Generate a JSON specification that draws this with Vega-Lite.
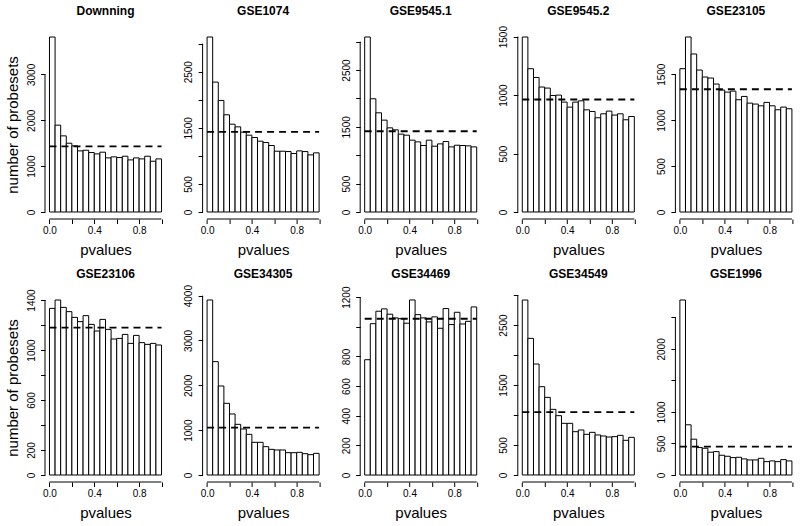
{
"$schema": "https://vega.github.io/schema/vega-lite/v6.json",
"padding": {"left": 5, "top": 5, "right": 0, "bottom": 0},
"background": "white",
"config": {
 "font": "Liberation Sans",
 "view": {"stroke": null},
 "axis": {"grid": false, "domain": false, "tickColor": "black", "tickSize": 4.5, "tickWidth": 1, "labelColor": "black", "labelFontSize": 10, "titleColor": "black", "titleFontSize": 15, "titleFontWeight": "normal", "labelOverlap": false, "labelBound": false, "labelFlush": false},
 "axisX": {"labelPadding": 2, "titlePadding": 7},
 "axisY": {"labelAngle": -90, "labelAlign": "center", "labelBaseline": "alphabetic", "labelPadding": 6.5, "titlePadding": 6},
 "title": {"fontSize": 12, "fontWeight": "bold", "color": "black", "baseline": "alphabetic", "anchor": "middle", "frame": "group"}
},
"datasets": {"bins": [
{"s":"Downning","lo":0,"hi":0.05,"n":3816},{"s":"Downning","lo":0.05,"hi":0.1,"n":1894},{"s":"Downning","lo":0.1,"hi":0.15,"n":1660},{"s":"Downning","lo":0.15,"hi":0.2,"n":1500},{"s":"Downning","lo":0.2,"hi":0.25,"n":1442},{"s":"Downning","lo":0.25,"hi":0.3,"n":1333},{"s":"Downning","lo":0.3,"hi":0.35,"n":1347},{"s":"Downning","lo":0.35,"hi":0.4,"n":1296},{"s":"Downning","lo":0.4,"hi":0.45,"n":1267},{"s":"Downning","lo":0.45,"hi":0.5,"n":1304},{"s":"Downning","lo":0.5,"hi":0.55,"n":1180},{"s":"Downning","lo":0.55,"hi":0.6,"n":1202},{"s":"Downning","lo":0.6,"hi":0.65,"n":1187},{"s":"Downning","lo":0.65,"hi":0.7,"n":1216},{"s":"Downning","lo":0.7,"hi":0.75,"n":1136},{"s":"Downning","lo":0.75,"hi":0.8,"n":1180},{"s":"Downning","lo":0.8,"hi":0.85,"n":1158},{"s":"Downning","lo":0.85,"hi":0.9,"n":1216},{"s":"Downning","lo":0.9,"hi":0.95,"n":1107},{"s":"Downning","lo":0.95,"hi":1,"n":1158},
{"s":"GSE1074","lo":0,"hi":0.05,"n":3119},{"s":"GSE1074","lo":0.05,"hi":0.1,"n":2315},{"s":"GSE1074","lo":0.1,"hi":0.15,"n":1988},{"s":"GSE1074","lo":0.15,"hi":0.2,"n":1732},{"s":"GSE1074","lo":0.2,"hi":0.25,"n":1565},{"s":"GSE1074","lo":0.25,"hi":0.3,"n":1518},{"s":"GSE1074","lo":0.3,"hi":0.35,"n":1423},{"s":"GSE1074","lo":0.35,"hi":0.4,"n":1369},{"s":"GSE1074","lo":0.4,"hi":0.45,"n":1327},{"s":"GSE1074","lo":0.45,"hi":0.5,"n":1262},{"s":"GSE1074","lo":0.5,"hi":0.55,"n":1238},{"s":"GSE1074","lo":0.55,"hi":0.6,"n":1185},{"s":"GSE1074","lo":0.6,"hi":0.65,"n":1083},{"s":"GSE1074","lo":0.65,"hi":0.7,"n":1083},{"s":"GSE1074","lo":0.7,"hi":0.75,"n":1077},{"s":"GSE1074","lo":0.75,"hi":0.8,"n":1042},{"s":"GSE1074","lo":0.8,"hi":0.85,"n":1089},{"s":"GSE1074","lo":0.85,"hi":0.9,"n":1077},{"s":"GSE1074","lo":0.9,"hi":0.95,"n":1018},{"s":"GSE1074","lo":0.95,"hi":1,"n":1054},
{"s":"GSE9545.1","lo":0,"hi":0.05,"n":3082},{"s":"GSE9545.1","lo":0.05,"hi":0.1,"n":1994},{"s":"GSE9545.1","lo":0.1,"hi":0.15,"n":1747},{"s":"GSE9545.1","lo":0.15,"hi":0.2,"n":1618},{"s":"GSE9545.1","lo":0.2,"hi":0.25,"n":1482},{"s":"GSE9545.1","lo":0.25,"hi":0.3,"n":1447},{"s":"GSE9545.1","lo":0.3,"hi":0.35,"n":1371},{"s":"GSE9545.1","lo":0.35,"hi":0.4,"n":1353},{"s":"GSE9545.1","lo":0.4,"hi":0.45,"n":1265},{"s":"GSE9545.1","lo":0.45,"hi":0.5,"n":1235},{"s":"GSE9545.1","lo":0.5,"hi":0.55,"n":1171},{"s":"GSE9545.1","lo":0.55,"hi":0.6,"n":1265},{"s":"GSE9545.1","lo":0.6,"hi":0.65,"n":1159},{"s":"GSE9545.1","lo":0.65,"hi":0.7,"n":1200},{"s":"GSE9545.1","lo":0.7,"hi":0.75,"n":1241},{"s":"GSE9545.1","lo":0.75,"hi":0.8,"n":1147},{"s":"GSE9545.1","lo":0.8,"hi":0.85,"n":1176},{"s":"GSE9545.1","lo":0.85,"hi":0.9,"n":1171},{"s":"GSE9545.1","lo":0.9,"hi":0.95,"n":1165},{"s":"GSE9545.1","lo":0.95,"hi":1,"n":1147},
{"s":"GSE9545.2","lo":0,"hi":0.05,"n":1497},{"s":"GSE9545.2","lo":0.05,"hi":0.1,"n":1226},{"s":"GSE9545.2","lo":0.1,"hi":0.15,"n":1151},{"s":"GSE9545.2","lo":0.15,"hi":0.2,"n":1069},{"s":"GSE9545.2","lo":0.2,"hi":0.25,"n":1060},{"s":"GSE9545.2","lo":0.25,"hi":0.3,"n":997},{"s":"GSE9545.2","lo":0.3,"hi":0.35,"n":1000},{"s":"GSE9545.2","lo":0.35,"hi":0.4,"n":940},{"s":"GSE9545.2","lo":0.4,"hi":0.45,"n":897},{"s":"GSE9545.2","lo":0.45,"hi":0.5,"n":940},{"s":"GSE9545.2","lo":0.5,"hi":0.55,"n":951},{"s":"GSE9545.2","lo":0.55,"hi":0.6,"n":874},{"s":"GSE9545.2","lo":0.6,"hi":0.65,"n":860},{"s":"GSE9545.2","lo":0.65,"hi":0.7,"n":806},{"s":"GSE9545.2","lo":0.7,"hi":0.75,"n":840},{"s":"GSE9545.2","lo":0.75,"hi":0.8,"n":863},{"s":"GSE9545.2","lo":0.8,"hi":0.85,"n":829},{"s":"GSE9545.2","lo":0.85,"hi":0.9,"n":840},{"s":"GSE9545.2","lo":0.9,"hi":0.95,"n":789},{"s":"GSE9545.2","lo":0.95,"hi":1,"n":817},
{"s":"GSE23105","lo":0,"hi":0.05,"n":1560},{"s":"GSE23105","lo":0.05,"hi":0.1,"n":1905},{"s":"GSE23105","lo":0.1,"hi":0.15,"n":1720},{"s":"GSE23105","lo":0.15,"hi":0.2,"n":1545},{"s":"GSE23105","lo":0.2,"hi":0.25,"n":1469},{"s":"GSE23105","lo":0.25,"hi":0.3,"n":1458},{"s":"GSE23105","lo":0.3,"hi":0.35,"n":1393},{"s":"GSE23105","lo":0.35,"hi":0.4,"n":1327},{"s":"GSE23105","lo":0.4,"hi":0.45,"n":1305},{"s":"GSE23105","lo":0.45,"hi":0.5,"n":1316},{"s":"GSE23105","lo":0.5,"hi":0.55,"n":1222},{"s":"GSE23105","lo":0.55,"hi":0.6,"n":1258},{"s":"GSE23105","lo":0.6,"hi":0.65,"n":1185},{"s":"GSE23105","lo":0.65,"hi":0.7,"n":1175},{"s":"GSE23105","lo":0.7,"hi":0.75,"n":1156},{"s":"GSE23105","lo":0.75,"hi":0.8,"n":1193},{"s":"GSE23105","lo":0.8,"hi":0.85,"n":1156},{"s":"GSE23105","lo":0.85,"hi":0.9,"n":1113},{"s":"GSE23105","lo":0.9,"hi":0.95,"n":1142},{"s":"GSE23105","lo":0.95,"hi":1,"n":1124},
{"s":"GSE23106","lo":0,"hi":0.05,"n":1333},{"s":"GSE23106","lo":0.05,"hi":0.1,"n":1400},{"s":"GSE23106","lo":0.1,"hi":0.15,"n":1341},{"s":"GSE23106","lo":0.15,"hi":0.2,"n":1307},{"s":"GSE23106","lo":0.2,"hi":0.25,"n":1261},{"s":"GSE23106","lo":0.25,"hi":0.3,"n":1227},{"s":"GSE23106","lo":0.3,"hi":0.35,"n":1275},{"s":"GSE23106","lo":0.35,"hi":0.4,"n":1205},{"s":"GSE23106","lo":0.4,"hi":0.45,"n":1152},{"s":"GSE23106","lo":0.45,"hi":0.5,"n":1245},{"s":"GSE23106","lo":0.5,"hi":0.55,"n":1165},{"s":"GSE23106","lo":0.55,"hi":0.6,"n":1088},{"s":"GSE23106","lo":0.6,"hi":0.65,"n":1093},{"s":"GSE23106","lo":0.65,"hi":0.7,"n":1125},{"s":"GSE23106","lo":0.7,"hi":0.75,"n":1053},{"s":"GSE23106","lo":0.75,"hi":0.8,"n":1117},{"s":"GSE23106","lo":0.8,"hi":0.85,"n":1059},{"s":"GSE23106","lo":0.85,"hi":0.9,"n":1045},{"s":"GSE23106","lo":0.9,"hi":0.95,"n":1053},{"s":"GSE23106","lo":0.95,"hi":1,"n":1040},
{"s":"GSE34305","lo":0,"hi":0.05,"n":3903},{"s":"GSE34305","lo":0.05,"hi":0.1,"n":2528},{"s":"GSE34305","lo":0.1,"hi":0.15,"n":1985},{"s":"GSE34305","lo":0.15,"hi":0.2,"n":1599},{"s":"GSE34305","lo":0.2,"hi":0.25,"n":1361},{"s":"GSE34305","lo":0.25,"hi":0.3,"n":1130},{"s":"GSE34305","lo":0.3,"hi":0.35,"n":1026},{"s":"GSE34305","lo":0.35,"hi":0.4,"n":907},{"s":"GSE34305","lo":0.4,"hi":0.45,"n":729},{"s":"GSE34305","lo":0.45,"hi":0.5,"n":729},{"s":"GSE34305","lo":0.5,"hi":0.55,"n":632},{"s":"GSE34305","lo":0.55,"hi":0.6,"n":572},{"s":"GSE34305","lo":0.6,"hi":0.65,"n":558},{"s":"GSE34305","lo":0.65,"hi":0.7,"n":558},{"s":"GSE34305","lo":0.7,"hi":0.75,"n":498},{"s":"GSE34305","lo":0.75,"hi":0.8,"n":498},{"s":"GSE34305","lo":0.8,"hi":0.85,"n":506},{"s":"GSE34305","lo":0.85,"hi":0.9,"n":476},{"s":"GSE34305","lo":0.9,"hi":0.95,"n":454},{"s":"GSE34305","lo":0.95,"hi":1,"n":483},
{"s":"GSE34469","lo":0,"hi":0.05,"n":778},{"s":"GSE34469","lo":0.05,"hi":0.1,"n":1021},{"s":"GSE34469","lo":0.1,"hi":0.15,"n":1105},{"s":"GSE34469","lo":0.15,"hi":0.2,"n":1121},{"s":"GSE34469","lo":0.2,"hi":0.25,"n":1085},{"s":"GSE34469","lo":0.25,"hi":0.3,"n":1060},{"s":"GSE34469","lo":0.3,"hi":0.35,"n":1055},{"s":"GSE34469","lo":0.35,"hi":0.4,"n":1024},{"s":"GSE34469","lo":0.4,"hi":0.45,"n":1181},{"s":"GSE34469","lo":0.45,"hi":0.5,"n":1082},{"s":"GSE34469","lo":0.5,"hi":0.55,"n":1060},{"s":"GSE34469","lo":0.55,"hi":0.6,"n":1033},{"s":"GSE34469","lo":0.6,"hi":0.65,"n":1067},{"s":"GSE34469","lo":0.65,"hi":0.7,"n":990},{"s":"GSE34469","lo":0.7,"hi":0.75,"n":1123},{"s":"GSE34469","lo":0.75,"hi":0.8,"n":1015},{"s":"GSE34469","lo":0.8,"hi":0.85,"n":1098},{"s":"GSE34469","lo":0.85,"hi":0.9,"n":1019},{"s":"GSE34469","lo":0.9,"hi":0.95,"n":1037},{"s":"GSE34469","lo":0.95,"hi":1,"n":1134},
{"s":"GSE34549","lo":0,"hi":0.05,"n":2917},{"s":"GSE34549","lo":0.05,"hi":0.1,"n":2278},{"s":"GSE34549","lo":0.1,"hi":0.15,"n":1850},{"s":"GSE34549","lo":0.15,"hi":0.2,"n":1472},{"s":"GSE34549","lo":0.2,"hi":0.25,"n":1294},{"s":"GSE34549","lo":0.25,"hi":0.3,"n":1094},{"s":"GSE34549","lo":0.3,"hi":0.35,"n":989},{"s":"GSE34549","lo":0.35,"hi":0.4,"n":861},{"s":"GSE34549","lo":0.4,"hi":0.45,"n":861},{"s":"GSE34549","lo":0.45,"hi":0.5,"n":722},{"s":"GSE34549","lo":0.5,"hi":0.55,"n":750},{"s":"GSE34549","lo":0.55,"hi":0.6,"n":678},{"s":"GSE34549","lo":0.6,"hi":0.65,"n":711},{"s":"GSE34549","lo":0.65,"hi":0.7,"n":667},{"s":"GSE34549","lo":0.7,"hi":0.75,"n":650},{"s":"GSE34549","lo":0.75,"hi":0.8,"n":633},{"s":"GSE34549","lo":0.8,"hi":0.85,"n":639},{"s":"GSE34549","lo":0.85,"hi":0.9,"n":661},{"s":"GSE34549","lo":0.9,"hi":0.95,"n":578},{"s":"GSE34549","lo":0.95,"hi":1,"n":628},
{"s":"GSE1996","lo":0,"hi":0.05,"n":2775},{"s":"GSE1996","lo":0.05,"hi":0.1,"n":796},{"s":"GSE1996","lo":0.1,"hi":0.15,"n":568},{"s":"GSE1996","lo":0.15,"hi":0.2,"n":435},{"s":"GSE1996","lo":0.2,"hi":0.25,"n":424},{"s":"GSE1996","lo":0.25,"hi":0.3,"n":361},{"s":"GSE1996","lo":0.3,"hi":0.35,"n":371},{"s":"GSE1996","lo":0.35,"hi":0.4,"n":313},{"s":"GSE1996","lo":0.4,"hi":0.45,"n":297},{"s":"GSE1996","lo":0.45,"hi":0.5,"n":276},{"s":"GSE1996","lo":0.5,"hi":0.55,"n":281},{"s":"GSE1996","lo":0.55,"hi":0.6,"n":255},{"s":"GSE1996","lo":0.6,"hi":0.65,"n":239},{"s":"GSE1996","lo":0.65,"hi":0.7,"n":239},{"s":"GSE1996","lo":0.7,"hi":0.75,"n":265},{"s":"GSE1996","lo":0.75,"hi":0.8,"n":212},{"s":"GSE1996","lo":0.8,"hi":0.85,"n":223},{"s":"GSE1996","lo":0.85,"hi":0.9,"n":212},{"s":"GSE1996","lo":0.9,"hi":0.95,"n":244},{"s":"GSE1996","lo":0.95,"hi":1,"n":223}
]},
"bounds": "flush",
"columns": 5,
"spacing": {"row": 74, "column": 36.6},
"concat": [
{"width": 121, "height": 189, "title": {"text": "Downning", "offset": 12},
 "layer": [
  {"data": {"name": "bins"}, "transform": [{"filter": "datum.s === 'Downning'"}], "mark": {"type": "bar", "fill": "white", "stroke": "black", "strokeWidth": 1},
   "encoding": {"x": {"field": "lo", "type": "quantitative", "scale": {"domain": [-0.04, 1.04], "nice": false, "zero": false}, "axis": {"title": "pvalues", "values": [0, 0.2, 0.4, 0.6, 0.8, 1], "labelExpr": "datum.value < 0.01 || abs(datum.value - 0.4) < 0.01 || abs(datum.value - 0.8) < 0.01 ? format(datum.value, '.1f') : ''"}},
    "x2": {"field": "hi"},
    "y": {"field": "n", "type": "quantitative", "scale": {"domain": [-153, 3969], "nice": false, "zero": false}, "axis": {"title": "number of probesets", "values": [0, 1000, 2000, 3000], "labelExpr": "format(datum.value, 'd')"}},
    "y2": {"datum": 0}}},
  {"data": {"name": "bins"}, "transform": [{"filter": "datum.s === 'Downning'"}], "mark": {"type": "rule", "strokeDash": [7, 5], "strokeWidth": 1.8, "color": "black"},
   "encoding": {"x": {"datum": 0, "type": "quantitative", "axis": {"title": "pvalues", "values": [0, 0.2, 0.4, 0.6, 0.8, 1], "labelExpr": "datum.value < 0.01 || abs(datum.value - 0.4) < 0.01 || abs(datum.value - 0.8) < 0.01 ? format(datum.value, '.1f') : ''"}}, "x2": {"datum": 1}, "y": {"aggregate": "mean", "field": "n", "type": "quantitative", "axis": {"title": "number of probesets", "values": [0, 1000, 2000, 3000], "labelExpr": "format(datum.value, 'd')"}}}},
  {"data": {"values": [{}]}, "mark": {"type": "rule", "color": "black", "strokeWidth": 1},
   "encoding": {"x": {"datum": 0, "type": "quantitative", "axis": {"title": "pvalues", "values": [0, 0.2, 0.4, 0.6, 0.8, 1], "labelExpr": "datum.value < 0.01 || abs(datum.value - 0.4) < 0.01 || abs(datum.value - 0.8) < 0.01 ? format(datum.value, '.1f') : ''"}}, "x2": {"datum": 1}, "y": {"datum": -153, "type": "quantitative", "axis": {"title": "number of probesets", "values": [0, 1000, 2000, 3000], "labelExpr": "format(datum.value, 'd')"}}}},
  {"data": {"values": [{}]}, "mark": {"type": "rule", "color": "black", "strokeWidth": 1},
   "encoding": {"x": {"datum": -0.04, "type": "quantitative", "axis": {"title": "pvalues", "values": [0, 0.2, 0.4, 0.6, 0.8, 1], "labelExpr": "datum.value < 0.01 || abs(datum.value - 0.4) < 0.01 || abs(datum.value - 0.8) < 0.01 ? format(datum.value, '.1f') : ''"}}, "y": {"datum": 0, "type": "quantitative", "axis": {"title": "number of probesets", "values": [0, 1000, 2000, 3000], "labelExpr": "format(datum.value, 'd')"}}, "y2": {"datum": 3000}}}
 ]},
{"width": 121, "height": 189, "title": {"text": "GSE1074", "offset": 12},
 "layer": [
  {"data": {"name": "bins"}, "transform": [{"filter": "datum.s === 'GSE1074'"}], "mark": {"type": "bar", "fill": "white", "stroke": "black", "strokeWidth": 1},
   "encoding": {"x": {"field": "lo", "type": "quantitative", "scale": {"domain": [-0.04, 1.04], "nice": false, "zero": false}, "axis": {"title": "pvalues", "values": [0, 0.2, 0.4, 0.6, 0.8, 1], "labelExpr": "datum.value < 0.01 || abs(datum.value - 0.4) < 0.01 || abs(datum.value - 0.8) < 0.01 ? format(datum.value, '.1f') : ''"}},
    "x2": {"field": "hi"},
    "y": {"field": "n", "type": "quantitative", "scale": {"domain": [-125, 3244], "nice": false, "zero": false}, "axis": {"title": null, "values": [0, 500, 1000, 1500, 2000, 2500, 3000], "labelExpr": "indexof([0, 500, 1500, 2500], datum.value) >= 0 ? format(datum.value, 'd') : ''"}},
    "y2": {"datum": 0}}},
  {"data": {"name": "bins"}, "transform": [{"filter": "datum.s === 'GSE1074'"}], "mark": {"type": "rule", "strokeDash": [7, 5], "strokeWidth": 1.8, "color": "black"},
   "encoding": {"x": {"datum": 0, "type": "quantitative", "axis": {"title": "pvalues", "values": [0, 0.2, 0.4, 0.6, 0.8, 1], "labelExpr": "datum.value < 0.01 || abs(datum.value - 0.4) < 0.01 || abs(datum.value - 0.8) < 0.01 ? format(datum.value, '.1f') : ''"}}, "x2": {"datum": 1}, "y": {"aggregate": "mean", "field": "n", "type": "quantitative", "axis": {"title": null, "values": [0, 500, 1000, 1500, 2000, 2500, 3000], "labelExpr": "indexof([0, 500, 1500, 2500], datum.value) >= 0 ? format(datum.value, 'd') : ''"}}}},
  {"data": {"values": [{}]}, "mark": {"type": "rule", "color": "black", "strokeWidth": 1},
   "encoding": {"x": {"datum": 0, "type": "quantitative", "axis": {"title": "pvalues", "values": [0, 0.2, 0.4, 0.6, 0.8, 1], "labelExpr": "datum.value < 0.01 || abs(datum.value - 0.4) < 0.01 || abs(datum.value - 0.8) < 0.01 ? format(datum.value, '.1f') : ''"}}, "x2": {"datum": 1}, "y": {"datum": -125, "type": "quantitative", "axis": {"title": null, "values": [0, 500, 1000, 1500, 2000, 2500, 3000], "labelExpr": "indexof([0, 500, 1500, 2500], datum.value) >= 0 ? format(datum.value, 'd') : ''"}}}},
  {"data": {"values": [{}]}, "mark": {"type": "rule", "color": "black", "strokeWidth": 1},
   "encoding": {"x": {"datum": -0.04, "type": "quantitative", "axis": {"title": "pvalues", "values": [0, 0.2, 0.4, 0.6, 0.8, 1], "labelExpr": "datum.value < 0.01 || abs(datum.value - 0.4) < 0.01 || abs(datum.value - 0.8) < 0.01 ? format(datum.value, '.1f') : ''"}}, "y": {"datum": 0, "type": "quantitative", "axis": {"title": null, "values": [0, 500, 1000, 1500, 2000, 2500, 3000], "labelExpr": "indexof([0, 500, 1500, 2500], datum.value) >= 0 ? format(datum.value, 'd') : ''"}}, "y2": {"datum": 3000}}}
 ]},
{"width": 121, "height": 189, "title": {"text": "GSE9545.1", "offset": 12},
 "layer": [
  {"data": {"name": "bins"}, "transform": [{"filter": "datum.s === 'GSE9545.1'"}], "mark": {"type": "bar", "fill": "white", "stroke": "black", "strokeWidth": 1},
   "encoding": {"x": {"field": "lo", "type": "quantitative", "scale": {"domain": [-0.04, 1.04], "nice": false, "zero": false}, "axis": {"title": "pvalues", "values": [0, 0.2, 0.4, 0.6, 0.8, 1], "labelExpr": "datum.value < 0.01 || abs(datum.value - 0.4) < 0.01 || abs(datum.value - 0.8) < 0.01 ? format(datum.value, '.1f') : ''"}},
    "x2": {"field": "hi"},
    "y": {"field": "n", "type": "quantitative", "scale": {"domain": [-123, 3205], "nice": false, "zero": false}, "axis": {"title": null, "values": [0, 500, 1000, 1500, 2000, 2500, 3000], "labelExpr": "indexof([0, 500, 1500, 2500], datum.value) >= 0 ? format(datum.value, 'd') : ''"}},
    "y2": {"datum": 0}}},
  {"data": {"name": "bins"}, "transform": [{"filter": "datum.s === 'GSE9545.1'"}], "mark": {"type": "rule", "strokeDash": [7, 5], "strokeWidth": 1.8, "color": "black"},
   "encoding": {"x": {"datum": 0, "type": "quantitative", "axis": {"title": "pvalues", "values": [0, 0.2, 0.4, 0.6, 0.8, 1], "labelExpr": "datum.value < 0.01 || abs(datum.value - 0.4) < 0.01 || abs(datum.value - 0.8) < 0.01 ? format(datum.value, '.1f') : ''"}}, "x2": {"datum": 1}, "y": {"aggregate": "mean", "field": "n", "type": "quantitative", "axis": {"title": null, "values": [0, 500, 1000, 1500, 2000, 2500, 3000], "labelExpr": "indexof([0, 500, 1500, 2500], datum.value) >= 0 ? format(datum.value, 'd') : ''"}}}},
  {"data": {"values": [{}]}, "mark": {"type": "rule", "color": "black", "strokeWidth": 1},
   "encoding": {"x": {"datum": 0, "type": "quantitative", "axis": {"title": "pvalues", "values": [0, 0.2, 0.4, 0.6, 0.8, 1], "labelExpr": "datum.value < 0.01 || abs(datum.value - 0.4) < 0.01 || abs(datum.value - 0.8) < 0.01 ? format(datum.value, '.1f') : ''"}}, "x2": {"datum": 1}, "y": {"datum": -123, "type": "quantitative", "axis": {"title": null, "values": [0, 500, 1000, 1500, 2000, 2500, 3000], "labelExpr": "indexof([0, 500, 1500, 2500], datum.value) >= 0 ? format(datum.value, 'd') : ''"}}}},
  {"data": {"values": [{}]}, "mark": {"type": "rule", "color": "black", "strokeWidth": 1},
   "encoding": {"x": {"datum": -0.04, "type": "quantitative", "axis": {"title": "pvalues", "values": [0, 0.2, 0.4, 0.6, 0.8, 1], "labelExpr": "datum.value < 0.01 || abs(datum.value - 0.4) < 0.01 || abs(datum.value - 0.8) < 0.01 ? format(datum.value, '.1f') : ''"}}, "y": {"datum": 0, "type": "quantitative", "axis": {"title": null, "values": [0, 500, 1000, 1500, 2000, 2500, 3000], "labelExpr": "indexof([0, 500, 1500, 2500], datum.value) >= 0 ? format(datum.value, 'd') : ''"}}, "y2": {"datum": 3000}}}
 ]},
{"width": 121, "height": 189, "title": {"text": "GSE9545.2", "offset": 7.5},
 "layer": [
  {"data": {"name": "bins"}, "transform": [{"filter": "datum.s === 'GSE9545.2'"}], "mark": {"type": "bar", "fill": "white", "stroke": "black", "strokeWidth": 1},
   "encoding": {"x": {"field": "lo", "type": "quantitative", "scale": {"domain": [-0.04, 1.04], "nice": false, "zero": false}, "axis": {"title": "pvalues", "values": [0, 0.2, 0.4, 0.6, 0.8, 1], "labelExpr": "datum.value < 0.01 || abs(datum.value - 0.4) < 0.01 || abs(datum.value - 0.8) < 0.01 ? format(datum.value, '.1f') : ''"}},
    "x2": {"field": "hi"},
    "y": {"field": "n", "type": "quantitative", "scale": {"domain": [-60, 1557], "nice": false, "zero": false}, "axis": {"title": null, "values": [0, 500, 1000, 1500], "labelExpr": "format(datum.value, 'd')"}},
    "y2": {"datum": 0}}},
  {"data": {"name": "bins"}, "transform": [{"filter": "datum.s === 'GSE9545.2'"}], "mark": {"type": "rule", "strokeDash": [7, 5], "strokeWidth": 1.8, "color": "black"},
   "encoding": {"x": {"datum": 0, "type": "quantitative", "axis": {"title": "pvalues", "values": [0, 0.2, 0.4, 0.6, 0.8, 1], "labelExpr": "datum.value < 0.01 || abs(datum.value - 0.4) < 0.01 || abs(datum.value - 0.8) < 0.01 ? format(datum.value, '.1f') : ''"}}, "x2": {"datum": 1}, "y": {"aggregate": "mean", "field": "n", "type": "quantitative", "axis": {"title": null, "values": [0, 500, 1000, 1500], "labelExpr": "format(datum.value, 'd')"}}}},
  {"data": {"values": [{}]}, "mark": {"type": "rule", "color": "black", "strokeWidth": 1},
   "encoding": {"x": {"datum": 0, "type": "quantitative", "axis": {"title": "pvalues", "values": [0, 0.2, 0.4, 0.6, 0.8, 1], "labelExpr": "datum.value < 0.01 || abs(datum.value - 0.4) < 0.01 || abs(datum.value - 0.8) < 0.01 ? format(datum.value, '.1f') : ''"}}, "x2": {"datum": 1}, "y": {"datum": -60, "type": "quantitative", "axis": {"title": null, "values": [0, 500, 1000, 1500], "labelExpr": "format(datum.value, 'd')"}}}},
  {"data": {"values": [{}]}, "mark": {"type": "rule", "color": "black", "strokeWidth": 1},
   "encoding": {"x": {"datum": -0.04, "type": "quantitative", "axis": {"title": "pvalues", "values": [0, 0.2, 0.4, 0.6, 0.8, 1], "labelExpr": "datum.value < 0.01 || abs(datum.value - 0.4) < 0.01 || abs(datum.value - 0.8) < 0.01 ? format(datum.value, '.1f') : ''"}}, "y": {"datum": 0, "type": "quantitative", "axis": {"title": null, "values": [0, 500, 1000, 1500], "labelExpr": "format(datum.value, 'd')"}}, "y2": {"datum": 1500}}}
 ]},
{"width": 121, "height": 189, "title": {"text": "GSE23105", "offset": 12},
 "layer": [
  {"data": {"name": "bins"}, "transform": [{"filter": "datum.s === 'GSE23105'"}], "mark": {"type": "bar", "fill": "white", "stroke": "black", "strokeWidth": 1},
   "encoding": {"x": {"field": "lo", "type": "quantitative", "scale": {"domain": [-0.04, 1.04], "nice": false, "zero": false}, "axis": {"title": "pvalues", "values": [0, 0.2, 0.4, 0.6, 0.8, 1], "labelExpr": "datum.value < 0.01 || abs(datum.value - 0.4) < 0.01 || abs(datum.value - 0.8) < 0.01 ? format(datum.value, '.1f') : ''"}},
    "x2": {"field": "hi"},
    "y": {"field": "n", "type": "quantitative", "scale": {"domain": [-76, 1981], "nice": false, "zero": false}, "axis": {"title": null, "values": [0, 500, 1000, 1500], "labelExpr": "format(datum.value, 'd')"}},
    "y2": {"datum": 0}}},
  {"data": {"name": "bins"}, "transform": [{"filter": "datum.s === 'GSE23105'"}], "mark": {"type": "rule", "strokeDash": [7, 5], "strokeWidth": 1.8, "color": "black"},
   "encoding": {"x": {"datum": 0, "type": "quantitative", "axis": {"title": "pvalues", "values": [0, 0.2, 0.4, 0.6, 0.8, 1], "labelExpr": "datum.value < 0.01 || abs(datum.value - 0.4) < 0.01 || abs(datum.value - 0.8) < 0.01 ? format(datum.value, '.1f') : ''"}}, "x2": {"datum": 1}, "y": {"aggregate": "mean", "field": "n", "type": "quantitative", "axis": {"title": null, "values": [0, 500, 1000, 1500], "labelExpr": "format(datum.value, 'd')"}}}},
  {"data": {"values": [{}]}, "mark": {"type": "rule", "color": "black", "strokeWidth": 1},
   "encoding": {"x": {"datum": 0, "type": "quantitative", "axis": {"title": "pvalues", "values": [0, 0.2, 0.4, 0.6, 0.8, 1], "labelExpr": "datum.value < 0.01 || abs(datum.value - 0.4) < 0.01 || abs(datum.value - 0.8) < 0.01 ? format(datum.value, '.1f') : ''"}}, "x2": {"datum": 1}, "y": {"datum": -76, "type": "quantitative", "axis": {"title": null, "values": [0, 500, 1000, 1500], "labelExpr": "format(datum.value, 'd')"}}}},
  {"data": {"values": [{}]}, "mark": {"type": "rule", "color": "black", "strokeWidth": 1},
   "encoding": {"x": {"datum": -0.04, "type": "quantitative", "axis": {"title": "pvalues", "values": [0, 0.2, 0.4, 0.6, 0.8, 1], "labelExpr": "datum.value < 0.01 || abs(datum.value - 0.4) < 0.01 || abs(datum.value - 0.8) < 0.01 ? format(datum.value, '.1f') : ''"}}, "y": {"datum": 0, "type": "quantitative", "axis": {"title": null, "values": [0, 500, 1000, 1500], "labelExpr": "format(datum.value, 'd')"}}, "y2": {"datum": 1500}}}
 ]},
{"width": 121, "height": 189, "title": {"text": "GSE23106", "offset": 7.9},
 "layer": [
  {"data": {"name": "bins"}, "transform": [{"filter": "datum.s === 'GSE23106'"}], "mark": {"type": "bar", "fill": "white", "stroke": "black", "strokeWidth": 1},
   "encoding": {"x": {"field": "lo", "type": "quantitative", "scale": {"domain": [-0.04, 1.04], "nice": false, "zero": false}, "axis": {"title": "pvalues", "values": [0, 0.2, 0.4, 0.6, 0.8, 1], "labelExpr": "datum.value < 0.01 || abs(datum.value - 0.4) < 0.01 || abs(datum.value - 0.8) < 0.01 ? format(datum.value, '.1f') : ''"}},
    "x2": {"field": "hi"},
    "y": {"field": "n", "type": "quantitative", "scale": {"domain": [-56, 1456], "nice": false, "zero": false}, "axis": {"title": "number of probesets", "values": [0, 200, 400, 600, 800, 1000, 1200, 1400], "labelExpr": "indexof([0, 200, 600, 1000, 1400], datum.value) >= 0 ? format(datum.value, 'd') : ''"}},
    "y2": {"datum": 0}}},
  {"data": {"name": "bins"}, "transform": [{"filter": "datum.s === 'GSE23106'"}], "mark": {"type": "rule", "strokeDash": [7, 5], "strokeWidth": 1.8, "color": "black"},
   "encoding": {"x": {"datum": 0, "type": "quantitative", "axis": {"title": "pvalues", "values": [0, 0.2, 0.4, 0.6, 0.8, 1], "labelExpr": "datum.value < 0.01 || abs(datum.value - 0.4) < 0.01 || abs(datum.value - 0.8) < 0.01 ? format(datum.value, '.1f') : ''"}}, "x2": {"datum": 1}, "y": {"aggregate": "mean", "field": "n", "type": "quantitative", "axis": {"title": "number of probesets", "values": [0, 200, 400, 600, 800, 1000, 1200, 1400], "labelExpr": "indexof([0, 200, 600, 1000, 1400], datum.value) >= 0 ? format(datum.value, 'd') : ''"}}}},
  {"data": {"values": [{}]}, "mark": {"type": "rule", "color": "black", "strokeWidth": 1},
   "encoding": {"x": {"datum": 0, "type": "quantitative", "axis": {"title": "pvalues", "values": [0, 0.2, 0.4, 0.6, 0.8, 1], "labelExpr": "datum.value < 0.01 || abs(datum.value - 0.4) < 0.01 || abs(datum.value - 0.8) < 0.01 ? format(datum.value, '.1f') : ''"}}, "x2": {"datum": 1}, "y": {"datum": -56, "type": "quantitative", "axis": {"title": "number of probesets", "values": [0, 200, 400, 600, 800, 1000, 1200, 1400], "labelExpr": "indexof([0, 200, 600, 1000, 1400], datum.value) >= 0 ? format(datum.value, 'd') : ''"}}}},
  {"data": {"values": [{}]}, "mark": {"type": "rule", "color": "black", "strokeWidth": 1},
   "encoding": {"x": {"datum": -0.04, "type": "quantitative", "axis": {"title": "pvalues", "values": [0, 0.2, 0.4, 0.6, 0.8, 1], "labelExpr": "datum.value < 0.01 || abs(datum.value - 0.4) < 0.01 || abs(datum.value - 0.8) < 0.01 ? format(datum.value, '.1f') : ''"}}, "y": {"datum": 0, "type": "quantitative", "axis": {"title": "number of probesets", "values": [0, 200, 400, 600, 800, 1000, 1200, 1400], "labelExpr": "indexof([0, 200, 600, 1000, 1400], datum.value) >= 0 ? format(datum.value, 'd') : ''"}}, "y2": {"datum": 1400}}}
 ]},
{"width": 121, "height": 189, "title": {"text": "GSE34305", "offset": 3.5},
 "layer": [
  {"data": {"name": "bins"}, "transform": [{"filter": "datum.s === 'GSE34305'"}], "mark": {"type": "bar", "fill": "white", "stroke": "black", "strokeWidth": 1},
   "encoding": {"x": {"field": "lo", "type": "quantitative", "scale": {"domain": [-0.04, 1.04], "nice": false, "zero": false}, "axis": {"title": "pvalues", "values": [0, 0.2, 0.4, 0.6, 0.8, 1], "labelExpr": "datum.value < 0.01 || abs(datum.value - 0.4) < 0.01 || abs(datum.value - 0.8) < 0.01 ? format(datum.value, '.1f') : ''"}},
    "x2": {"field": "hi"},
    "y": {"field": "n", "type": "quantitative", "scale": {"domain": [-156, 4059], "nice": false, "zero": false}, "axis": {"title": null, "values": [0, 1000, 2000, 3000, 4000], "labelExpr": "format(datum.value, 'd')"}},
    "y2": {"datum": 0}}},
  {"data": {"name": "bins"}, "transform": [{"filter": "datum.s === 'GSE34305'"}], "mark": {"type": "rule", "strokeDash": [7, 5], "strokeWidth": 1.8, "color": "black"},
   "encoding": {"x": {"datum": 0, "type": "quantitative", "axis": {"title": "pvalues", "values": [0, 0.2, 0.4, 0.6, 0.8, 1], "labelExpr": "datum.value < 0.01 || abs(datum.value - 0.4) < 0.01 || abs(datum.value - 0.8) < 0.01 ? format(datum.value, '.1f') : ''"}}, "x2": {"datum": 1}, "y": {"aggregate": "mean", "field": "n", "type": "quantitative", "axis": {"title": null, "values": [0, 1000, 2000, 3000, 4000], "labelExpr": "format(datum.value, 'd')"}}}},
  {"data": {"values": [{}]}, "mark": {"type": "rule", "color": "black", "strokeWidth": 1},
   "encoding": {"x": {"datum": 0, "type": "quantitative", "axis": {"title": "pvalues", "values": [0, 0.2, 0.4, 0.6, 0.8, 1], "labelExpr": "datum.value < 0.01 || abs(datum.value - 0.4) < 0.01 || abs(datum.value - 0.8) < 0.01 ? format(datum.value, '.1f') : ''"}}, "x2": {"datum": 1}, "y": {"datum": -156, "type": "quantitative", "axis": {"title": null, "values": [0, 1000, 2000, 3000, 4000], "labelExpr": "format(datum.value, 'd')"}}}},
  {"data": {"values": [{}]}, "mark": {"type": "rule", "color": "black", "strokeWidth": 1},
   "encoding": {"x": {"datum": -0.04, "type": "quantitative", "axis": {"title": "pvalues", "values": [0, 0.2, 0.4, 0.6, 0.8, 1], "labelExpr": "datum.value < 0.01 || abs(datum.value - 0.4) < 0.01 || abs(datum.value - 0.8) < 0.01 ? format(datum.value, '.1f') : ''"}}, "y": {"datum": 0, "type": "quantitative", "axis": {"title": null, "values": [0, 1000, 2000, 3000, 4000], "labelExpr": "format(datum.value, 'd')"}}, "y2": {"datum": 4000}}}
 ]},
{"width": 121, "height": 189, "title": {"text": "GSE34469", "offset": 5},
 "layer": [
  {"data": {"name": "bins"}, "transform": [{"filter": "datum.s === 'GSE34469'"}], "mark": {"type": "bar", "fill": "white", "stroke": "black", "strokeWidth": 1},
   "encoding": {"x": {"field": "lo", "type": "quantitative", "scale": {"domain": [-0.04, 1.04], "nice": false, "zero": false}, "axis": {"title": "pvalues", "values": [0, 0.2, 0.4, 0.6, 0.8, 1], "labelExpr": "datum.value < 0.01 || abs(datum.value - 0.4) < 0.01 || abs(datum.value - 0.8) < 0.01 ? format(datum.value, '.1f') : ''"}},
    "x2": {"field": "hi"},
    "y": {"field": "n", "type": "quantitative", "scale": {"domain": [-47, 1228], "nice": false, "zero": false}, "axis": {"title": null, "values": [0, 200, 400, 600, 800, 1000, 1200], "labelExpr": "indexof([0, 200, 400, 600, 800, 1200], datum.value) >= 0 ? format(datum.value, 'd') : ''"}},
    "y2": {"datum": 0}}},
  {"data": {"name": "bins"}, "transform": [{"filter": "datum.s === 'GSE34469'"}], "mark": {"type": "rule", "strokeDash": [7, 5], "strokeWidth": 1.8, "color": "black"},
   "encoding": {"x": {"datum": 0, "type": "quantitative", "axis": {"title": "pvalues", "values": [0, 0.2, 0.4, 0.6, 0.8, 1], "labelExpr": "datum.value < 0.01 || abs(datum.value - 0.4) < 0.01 || abs(datum.value - 0.8) < 0.01 ? format(datum.value, '.1f') : ''"}}, "x2": {"datum": 1}, "y": {"aggregate": "mean", "field": "n", "type": "quantitative", "axis": {"title": null, "values": [0, 200, 400, 600, 800, 1000, 1200], "labelExpr": "indexof([0, 200, 400, 600, 800, 1200], datum.value) >= 0 ? format(datum.value, 'd') : ''"}}}},
  {"data": {"values": [{}]}, "mark": {"type": "rule", "color": "black", "strokeWidth": 1},
   "encoding": {"x": {"datum": 0, "type": "quantitative", "axis": {"title": "pvalues", "values": [0, 0.2, 0.4, 0.6, 0.8, 1], "labelExpr": "datum.value < 0.01 || abs(datum.value - 0.4) < 0.01 || abs(datum.value - 0.8) < 0.01 ? format(datum.value, '.1f') : ''"}}, "x2": {"datum": 1}, "y": {"datum": -47, "type": "quantitative", "axis": {"title": null, "values": [0, 200, 400, 600, 800, 1000, 1200], "labelExpr": "indexof([0, 200, 400, 600, 800, 1200], datum.value) >= 0 ? format(datum.value, 'd') : ''"}}}},
  {"data": {"values": [{}]}, "mark": {"type": "rule", "color": "black", "strokeWidth": 1},
   "encoding": {"x": {"datum": -0.04, "type": "quantitative", "axis": {"title": "pvalues", "values": [0, 0.2, 0.4, 0.6, 0.8, 1], "labelExpr": "datum.value < 0.01 || abs(datum.value - 0.4) < 0.01 || abs(datum.value - 0.8) < 0.01 ? format(datum.value, '.1f') : ''"}}, "y": {"datum": 0, "type": "quantitative", "axis": {"title": null, "values": [0, 200, 400, 600, 800, 1000, 1200], "labelExpr": "indexof([0, 200, 400, 600, 800, 1200], datum.value) >= 0 ? format(datum.value, 'd') : ''"}}, "y2": {"datum": 1200}}}
 ]},
{"width": 121, "height": 189, "title": {"text": "GSE34549", "offset": 12},
 "layer": [
  {"data": {"name": "bins"}, "transform": [{"filter": "datum.s === 'GSE34549'"}], "mark": {"type": "bar", "fill": "white", "stroke": "black", "strokeWidth": 1},
   "encoding": {"x": {"field": "lo", "type": "quantitative", "scale": {"domain": [-0.04, 1.04], "nice": false, "zero": false}, "axis": {"title": "pvalues", "values": [0, 0.2, 0.4, 0.6, 0.8, 1], "labelExpr": "datum.value < 0.01 || abs(datum.value - 0.4) < 0.01 || abs(datum.value - 0.8) < 0.01 ? format(datum.value, '.1f') : ''"}},
    "x2": {"field": "hi"},
    "y": {"field": "n", "type": "quantitative", "scale": {"domain": [-117, 3034], "nice": false, "zero": false}, "axis": {"title": null, "values": [0, 500, 1000, 1500, 2000, 2500, 3000], "labelExpr": "indexof([0, 500, 1500, 2500], datum.value) >= 0 ? format(datum.value, 'd') : ''"}},
    "y2": {"datum": 0}}},
  {"data": {"name": "bins"}, "transform": [{"filter": "datum.s === 'GSE34549'"}], "mark": {"type": "rule", "strokeDash": [7, 5], "strokeWidth": 1.8, "color": "black"},
   "encoding": {"x": {"datum": 0, "type": "quantitative", "axis": {"title": "pvalues", "values": [0, 0.2, 0.4, 0.6, 0.8, 1], "labelExpr": "datum.value < 0.01 || abs(datum.value - 0.4) < 0.01 || abs(datum.value - 0.8) < 0.01 ? format(datum.value, '.1f') : ''"}}, "x2": {"datum": 1}, "y": {"aggregate": "mean", "field": "n", "type": "quantitative", "axis": {"title": null, "values": [0, 500, 1000, 1500, 2000, 2500, 3000], "labelExpr": "indexof([0, 500, 1500, 2500], datum.value) >= 0 ? format(datum.value, 'd') : ''"}}}},
  {"data": {"values": [{}]}, "mark": {"type": "rule", "color": "black", "strokeWidth": 1},
   "encoding": {"x": {"datum": 0, "type": "quantitative", "axis": {"title": "pvalues", "values": [0, 0.2, 0.4, 0.6, 0.8, 1], "labelExpr": "datum.value < 0.01 || abs(datum.value - 0.4) < 0.01 || abs(datum.value - 0.8) < 0.01 ? format(datum.value, '.1f') : ''"}}, "x2": {"datum": 1}, "y": {"datum": -117, "type": "quantitative", "axis": {"title": null, "values": [0, 500, 1000, 1500, 2000, 2500, 3000], "labelExpr": "indexof([0, 500, 1500, 2500], datum.value) >= 0 ? format(datum.value, 'd') : ''"}}}},
  {"data": {"values": [{}]}, "mark": {"type": "rule", "color": "black", "strokeWidth": 1},
   "encoding": {"x": {"datum": -0.04, "type": "quantitative", "axis": {"title": "pvalues", "values": [0, 0.2, 0.4, 0.6, 0.8, 1], "labelExpr": "datum.value < 0.01 || abs(datum.value - 0.4) < 0.01 || abs(datum.value - 0.8) < 0.01 ? format(datum.value, '.1f') : ''"}}, "y": {"datum": 0, "type": "quantitative", "axis": {"title": null, "values": [0, 500, 1000, 1500, 2000, 2500, 3000], "labelExpr": "indexof([0, 500, 1500, 2500], datum.value) >= 0 ? format(datum.value, 'd') : ''"}}, "y2": {"datum": 3000}}}
 ]},
{"width": 121, "height": 189, "title": {"text": "GSE1996", "offset": 12},
 "layer": [
  {"data": {"name": "bins"}, "transform": [{"filter": "datum.s === 'GSE1996'"}], "mark": {"type": "bar", "fill": "white", "stroke": "black", "strokeWidth": 1},
   "encoding": {"x": {"field": "lo", "type": "quantitative", "scale": {"domain": [-0.04, 1.04], "nice": false, "zero": false}, "axis": {"title": "pvalues", "values": [0, 0.2, 0.4, 0.6, 0.8, 1], "labelExpr": "datum.value < 0.01 || abs(datum.value - 0.4) < 0.01 || abs(datum.value - 0.8) < 0.01 ? format(datum.value, '.1f') : ''"}},
    "x2": {"field": "hi"},
    "y": {"field": "n", "type": "quantitative", "scale": {"domain": [-111, 2886], "nice": false, "zero": false}, "axis": {"title": null, "values": [0, 500, 1000, 1500, 2000, 2500], "labelExpr": "indexof([0, 500, 1000, 2000], datum.value) >= 0 ? format(datum.value, 'd') : ''"}},
    "y2": {"datum": 0}}},
  {"data": {"name": "bins"}, "transform": [{"filter": "datum.s === 'GSE1996'"}], "mark": {"type": "rule", "strokeDash": [7, 5], "strokeWidth": 1.8, "color": "black"},
   "encoding": {"x": {"datum": 0, "type": "quantitative", "axis": {"title": "pvalues", "values": [0, 0.2, 0.4, 0.6, 0.8, 1], "labelExpr": "datum.value < 0.01 || abs(datum.value - 0.4) < 0.01 || abs(datum.value - 0.8) < 0.01 ? format(datum.value, '.1f') : ''"}}, "x2": {"datum": 1}, "y": {"aggregate": "mean", "field": "n", "type": "quantitative", "axis": {"title": null, "values": [0, 500, 1000, 1500, 2000, 2500], "labelExpr": "indexof([0, 500, 1000, 2000], datum.value) >= 0 ? format(datum.value, 'd') : ''"}}}},
  {"data": {"values": [{}]}, "mark": {"type": "rule", "color": "black", "strokeWidth": 1},
   "encoding": {"x": {"datum": 0, "type": "quantitative", "axis": {"title": "pvalues", "values": [0, 0.2, 0.4, 0.6, 0.8, 1], "labelExpr": "datum.value < 0.01 || abs(datum.value - 0.4) < 0.01 || abs(datum.value - 0.8) < 0.01 ? format(datum.value, '.1f') : ''"}}, "x2": {"datum": 1}, "y": {"datum": -111, "type": "quantitative", "axis": {"title": null, "values": [0, 500, 1000, 1500, 2000, 2500], "labelExpr": "indexof([0, 500, 1000, 2000], datum.value) >= 0 ? format(datum.value, 'd') : ''"}}}},
  {"data": {"values": [{}]}, "mark": {"type": "rule", "color": "black", "strokeWidth": 1},
   "encoding": {"x": {"datum": -0.04, "type": "quantitative", "axis": {"title": "pvalues", "values": [0, 0.2, 0.4, 0.6, 0.8, 1], "labelExpr": "datum.value < 0.01 || abs(datum.value - 0.4) < 0.01 || abs(datum.value - 0.8) < 0.01 ? format(datum.value, '.1f') : ''"}}, "y": {"datum": 0, "type": "quantitative", "axis": {"title": null, "values": [0, 500, 1000, 1500, 2000, 2500], "labelExpr": "indexof([0, 500, 1000, 2000], datum.value) >= 0 ? format(datum.value, 'd') : ''"}}, "y2": {"datum": 2500}}}
 ]}
]
}
